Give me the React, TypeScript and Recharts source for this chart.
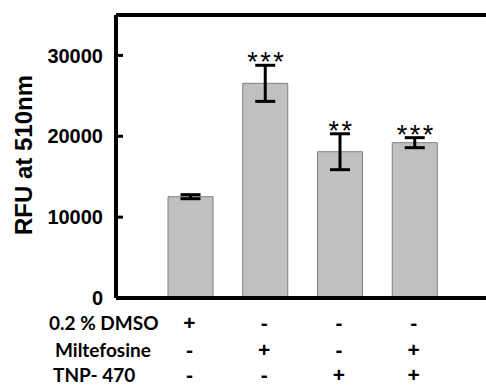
import React from 'react';
import { BarChart, Bar, XAxis, YAxis, ErrorBar, LabelList, ReferenceLine } from 'recharts';

// treatment groups, left to right
const groups = ['DMSO', 'Miltefosine', 'TNP-470', 'Miltefosine + TNP-470'];
const rfu = [12530, 26550, 18090, 19210];
const rfuErr = [250, 2230, 2220, 620];
const stars = ['', '***', '**', '***'];

// treatment table under the x axis
const rowNames = ['0.2 % DMSO', 'Miltefosine', 'TNP- 470'];
const dmsoRow = ['+', '-', '-', '-'];
const miltefosineRow = ['-', '+', '-', '+'];
const tnpRow = ['-', '-', '+', '+'];
const yTicks = [0, 10000, 20000, 30000];

const data = groups.map((g, i) => ({ name: g, rfu: rfu[i], err: rfuErr[i], stars: stars[i] }));

const rows = [dmsoRow, miltefosineRow, tnpRow];
const rowBaseline = [330, 357, 382];
const rowLabelX = [49, 55, 53];

const TableTick = (props: any) => {
  const { x, payload, index } = props;
  const i = typeof index === 'number' ? index : groups.indexOf(payload.value);
  return (
    <g>
      {i === 0 &&
        rowNames.map((r, k) => (
          <text key={r} x={rowLabelX[k]} y={rowBaseline[k]} fontFamily="Lato, 'Open Sans', sans-serif"
            fontWeight="bold" fontSize={19} fill="#000">
            {r}
          </text>
        ))}
      {rows.map((row, k) => (
        <text key={k} x={x - 1} y={rowBaseline[k]} textAnchor="middle" fontFamily="'Liberation Sans', Arial, sans-serif"
          fontWeight="bold" fontSize={21} fill="#000">
          {row[i]}
        </text>
      ))}
    </g>
  );
};

const StarLabel = (props: any) => {
  const { x, y, width, height, index } = props;
  const s = stars[index];
  if (!s) return null;
  const ratio = height / rfu[index];
  const errTop = y - rfuErr[index] * ratio;
  return (
    <text x={x + width / 2 + 1.5} y={errTop + 6} textAnchor="middle" fontFamily="'Liberation Sans', Arial, sans-serif"
      fontSize={27} letterSpacing={2.5} fill="#000">
      {s}
    </text>
  );
};

const YTitle = () => (
  <text x={32} y={155} transform="rotate(-90, 32, 155)" textAnchor="middle"
    fontFamily="'Liberation Sans', Arial, sans-serif" fontWeight="bold" fontSize={24} fill="#000">
    RFU at 510nm
  </text>
);

export default function App() {
  return (
    <div style={{ position: 'absolute', left: 0, top: 0, width: 486, height: 388, background: '#fff' }}>
      <BarChart width={486} height={388} data={data} margin={{ top: 15, right: 0, bottom: 0, left: 0 }}
        barSize={45}>
        <XAxis dataKey="name" height={90} axisLine={{ stroke: '#000', strokeWidth: 4 }} tickLine={false}
          padding={{ left: 37, right: 34 }} tick={<TableTick />} interval={0} />
        <YAxis width={116} domain={[0, 35000]} ticks={yTicks} allowDataOverflow
          axisLine={{ stroke: '#000', strokeWidth: 4 }} tickLine={{ stroke: '#000', strokeWidth: 3 }}
          tickSize={-7} tickMargin={20}
          tick={{ fill: '#000', fontSize: 20, fontWeight: 'bold', fontFamily: "'Liberation Sans', Arial, sans-serif" }}
          label={{ content: () => <YTitle /> }} />
        <ReferenceLine y={35000} stroke="#000" strokeWidth={4} />
        <Bar dataKey="rfu" fill="#c0c0c0" stroke="#808080" strokeWidth={1} isAnimationActive={false}>
          <ErrorBar dataKey="err" width={10} strokeWidth={3} stroke="#000" direction="y" isAnimationActive={false} />
          <LabelList dataKey="stars" content={<StarLabel />} />
        </Bar>
      </BarChart>
    </div>
  );
}
